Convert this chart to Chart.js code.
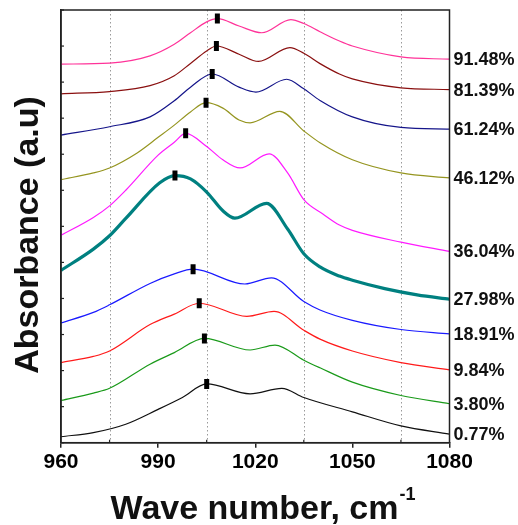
<!DOCTYPE html>
<html>
<head>
<meta charset="utf-8">
<script src="https://cdn.jsdelivr.net/npm/chart.js@4.4.1/dist/chart.umd.min.js"></script>
<style>
  html, body { margin: 0; padding: 0; background: #ffffff; }
  #wrap { width: 518px; height: 525px; }
</style>
</head>
<body>
<div id="wrap"><canvas id="c" width="518" height="525"></canvas></div>
<script>
// ---------------- DATA (wave number, absorbance a.u.) ----------------
const wn_0_77  = [960, 970, 980, 990, 997.5, 1005, 1018.4, 1028.2, 1035, 1050, 1065, 1080];
const ab_0_77  = [0.165, 0.280, 0.513, 0.925, 1.254, 1.630, 1.355, 1.509, 1.254, 0.856, 0.466, 0.239];

const wn_3_80  = [960, 970, 975, 987.5, 995, 1004.3, 1018.4, 1026.1, 1035, 1040, 1050, 1065, 1080];
const ab_3_80  = [1.171, 1.377, 1.509, 2.178, 2.497, 2.892, 2.571, 2.708, 2.288, 2.077, 1.679, 1.309, 1.081];

const wn_9_84  = [960, 970, 975, 987.5, 995, 1002.7, 1017.4, 1025.8, 1035, 1040, 1050, 1065, 1080];
const ab_9_84  = [2.222, 2.392, 2.543, 3.276, 3.567, 3.868, 3.503, 3.641, 3.119, 2.872, 2.543, 2.222, 2.022];

const wn_18_91 = [960, 970, 975, 987.5, 995, 1000.8, 1016.8, 1025, 1035, 1040, 1050, 1065, 1080];
const ab_18_91 = [3.320, 3.613, 3.824, 4.417, 4.683, 4.812, 4.401, 4.573, 3.915, 3.682, 3.394, 3.139, 3.018];

const wn_27_98 = [960, 970, 975, 980, 990.5, 995.2, 1000, 1005, 1010, 1013.7, 1023.5, 1030, 1035, 1040, 1046, 1050, 1060, 1070, 1080];
const ab_27_98 = [4.779, 5.369, 5.739, 6.220, 7.207, 7.407, 7.317, 6.952, 6.431, 6.228, 6.639, 5.926, 5.240, 4.875, 4.620, 4.505, 4.272, 4.099, 3.978];

const wn_36_04 = [960, 970, 975, 980, 990, 995, 998.5, 1005, 1010, 1015.3, 1024.3, 1030, 1035, 1041, 1046, 1050, 1065, 1080];
const ab_36_04 = [5.753, 6.247, 6.568, 7.001, 7.975, 8.332, 8.579, 8.214, 7.846, 7.619, 8.011, 7.481, 6.741, 6.337, 6.036, 5.890, 5.561, 5.306];

const wn_46_12 = [960, 970, 975, 983.4, 990, 995, 1000, 1004.8, 1010, 1015, 1018.4, 1027.6, 1035, 1040, 1050, 1065, 1080];
const ab_46_12 = [7.298, 7.481, 7.619, 8.030, 8.469, 8.807, 9.174, 9.429, 9.278, 8.949, 8.872, 9.191, 8.647, 8.318, 7.846, 7.481, 7.344];

const wn_61_24 = [960, 975, 987.5, 995, 1000, 1006.7, 1015, 1020.2, 1029.7, 1035, 1040, 1050, 1065, 1080];
const ab_61_24 = [8.532, 8.763, 9.037, 9.484, 9.860, 10.225, 9.860, 9.723, 10.080, 9.813, 9.493, 9.037, 8.744, 8.697];

const wn_81_39 = [960, 975, 987.5, 995, 1000, 1005, 1008, 1015, 1021, 1030.7, 1035, 1040, 1046, 1050, 1065, 1080];
const ab_81_39 = [9.676, 9.739, 9.904, 10.178, 10.519, 10.864, 11.001, 10.774, 10.573, 10.957, 10.801, 10.513, 10.225, 10.088, 9.841, 9.794];

const wn_91_48 = [960, 975, 987.5, 995, 1000, 1005, 1008.3, 1015, 1022, 1031, 1035, 1040, 1046, 1050, 1065, 1080];
const ab_91_48 = [10.499, 10.527, 10.727, 11.048, 11.369, 11.671, 11.761, 11.556, 11.369, 11.734, 11.624, 11.397, 11.139, 11.001, 10.700, 10.636];

const seriesLabels = ["0.77%", "3.80%", "9.84%", "18.91%", "27.98%", "36.04%", "46.12%", "61.24%", "81.39%", "91.48%"];
const seriesWaves  = [wn_0_77, wn_3_80, wn_9_84, wn_18_91, wn_27_98, wn_36_04, wn_46_12, wn_61_24, wn_81_39, wn_91_48];
const seriesValues = [ab_0_77, ab_3_80, ab_9_84, ab_18_91, ab_27_98, ab_36_04, ab_46_12, ab_61_24, ab_81_39, ab_91_48];

// peak markers
const peakWave = [1005.0, 1004.3, 1002.7, 1000.8, 995.2, 998.5, 1004.8, 1006.7, 1008.0, 1008.3];
const peakAbs  = [1.630, 2.892, 3.868, 4.812, 7.407, 8.579, 9.429, 10.225, 11.001, 11.761];

const xMajorTicks = [960, 990, 1020, 1050, 1080];
const xMinorTicks = [975, 1005, 1035, 1065];
const yTicks = [0, 1, 2, 3, 4, 5, 6, 7, 8, 9, 10, 11, 12];

// ---------------- STYLE ----------------
const colors = ["#111111", "#1a9a1a", "#ff1a1a", "#1a1aff", "#008080", "#ff1aff", "#959520", "#15158a", "#8a1010", "#ff3399"];
const widths = [1.2, 1.2, 1.2, 1.2, 3.2, 1.2, 1.2, 1.2, 1.2, 1.2];
const FONT = "'Liberation Sans', Arial, sans-serif";

const datasets = [];
datasets.push({
  type: 'scatter',
  label: 'peaks',
  data: peakWave.map((w, i) => ({ x: w, y: peakAbs[i] })),
  pointStyle: 'line',
  rotation: 90,
  radius: 5,
  borderWidth: 5,
  borderColor: '#000000',
  backgroundColor: '#000000',
  showLine: false
});
seriesValues.forEach((vals, i) => {
  datasets.push({
    type: 'line',
    label: seriesLabels[i],
    data: seriesWaves[i].map((w, k) => ({ x: w, y: vals[k] })),
    borderColor: colors[i],
    borderWidth: widths[i],
    pointRadius: 0,
    cubicInterpolationMode: 'monotone',
    fill: false
  });
});

const decor = {
  id: 'decor',
  beforeDatasetsDraw(chart) {
    const { ctx, chartArea: a, scales: { x } } = chart;
    ctx.save();
    ctx.strokeStyle = '#9a9a9a';
    ctx.lineWidth = 1;
    ctx.setLineDash([1.5, 2.5]);
    xMinorTicks.forEach(v => {
      const px = Math.round(x.getPixelForValue(v)) + 0.5;
      ctx.beginPath();
      ctx.moveTo(px, a.top);
      ctx.lineTo(px, a.bottom);
      ctx.stroke();
    });
    ctx.restore();
  },
  afterDraw(chart) {
    const { ctx, chartArea: a, scales: { x, y } } = chart;
    ctx.save();
    // frame
    ctx.strokeStyle = '#222222';
    ctx.lineWidth = 1.5;
    ctx.strokeRect(a.left, a.top, a.right - a.left, a.bottom - a.top);
    // inward minor x ticks
    ctx.lineWidth = 1.2;
    xMinorTicks.forEach(v => {
      const px = x.getPixelForValue(v);
      ctx.beginPath();
      ctx.moveTo(px, a.bottom);
      ctx.lineTo(px, a.bottom - 3);
      ctx.stroke();
    });
    // inward y ticks
    yTicks.forEach(v => {
      const py = y.getPixelForValue(v);
      ctx.beginPath();
      ctx.moveTo(a.left, py);
      ctx.lineTo(a.left + 3, py);
      ctx.stroke();
    });
    // right labels
    ctx.fillStyle = '#111111';
    ctx.font = "bold 18px " + FONT;
    ctx.textAlign = 'left';
    ctx.textBaseline = 'middle';
    seriesValues.forEach((vals, i) => {
      const py = y.getPixelForValue(vals[vals.length - 1]);
      ctx.fillText(seriesLabels[i], a.right + 4, py + 1);
    });
    // x title with superscript
    const main = "Wave number, cm";
    const sup = "-1";
    ctx.font = "bold 34px " + FONT;
    const wMain = ctx.measureText(main).width;
    ctx.font = "bold 18px " + FONT;
    const wSup = ctx.measureText(sup).width;
    const startX = 263 - (wMain + wSup + 1) / 2;
    ctx.textAlign = 'left';
    ctx.textBaseline = 'alphabetic';
    ctx.font = "bold 34px " + FONT;
    ctx.fillText(main, startX, 519);
    ctx.font = "bold 18px " + FONT;
    ctx.fillText(sup, startX + wMain + 1, 500);
    // y title
    ctx.translate(38, 235);
    ctx.rotate(-Math.PI / 2);
    ctx.font = "bold 34px " + FONT;
    ctx.textAlign = 'center';
    ctx.fillText("Absorbance (a.u)", 0, 0);
    ctx.restore();
  }
};

new Chart(document.getElementById('c'), {
  data: { datasets },
  options: {
    responsive: false,
    animation: false,
    events: [],
    layout: { padding: { left: 0, top: 5.3, right: 68.5, bottom: 0 } },
    plugins: { legend: { display: false }, tooltip: { enabled: false } },
    scales: {
      x: {
        type: 'linear',
        min: 960, max: 1080,
        afterBuildTicks: (s) => { s.ticks = xMajorTicks.map(v => ({ value: v })); },
        afterFit: (s) => { s.height = 82.3; },
        grid: { drawOnChartArea: false, drawTicks: true, tickLength: 5, color: '#222222', lineWidth: 1.5 },
        border: { display: true, color: '#222222', width: 1.5 },
        ticks: { color: '#000000', font: { family: FONT, size: 21, weight: 'bold' }, padding: 2, maxRotation: 0,
                 callback: (v) => String(v) }
      },
      y: {
        type: 'linear',
        min: 0, max: 12,
        afterFit: (s) => { s.width = 61; },
        grid: { drawOnChartArea: false, drawTicks: false },
        border: { display: true, color: '#222222', width: 1.5 },
        ticks: { display: false }
      }
    }
  },
  plugins: [decor]
});
</script>
</body>
</html>
